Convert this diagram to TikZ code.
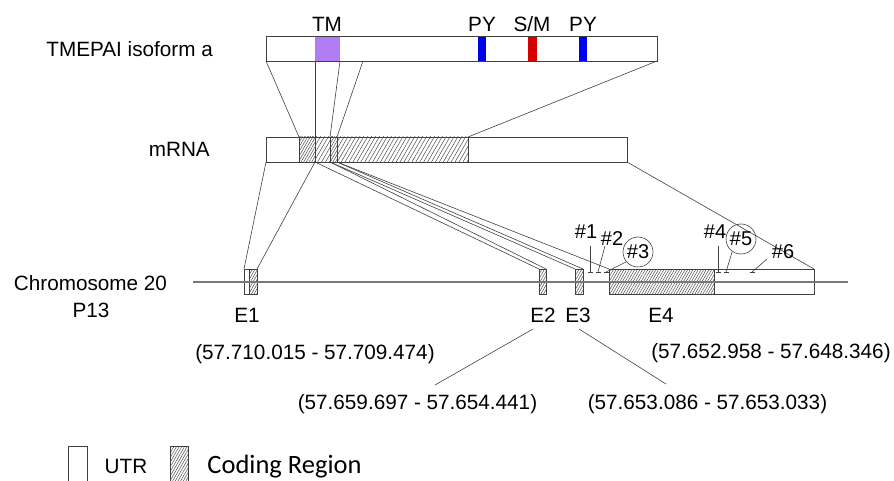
\documentclass[tikz,border=0pt]{standalone}
\usepackage{fontspec}
\setmainfont{Liberation Sans}
\newfontfamily\calibrifont{Carlito}
\usetikzlibrary{patterns.meta}
\definecolor{tmcol}{RGB}{176,125,245}
\definecolor{pycol}{RGB}{0,0,240}
\definecolor{smcol}{RGB}{215,0,0}
\definecolor{linecol}{RGB}{64,64,64}
\definecolor{chromcol}{RGB}{120,120,120}
\begin{document}
\begin{tikzpicture}[x=1pt,y=-1pt,
  box/.style={draw=linecol,line width=0.8pt},
  conn/.style={draw=linecol,line width=0.6pt},
  hatchlight/.style={pattern={Lines[angle=60,distance=3.4pt,line width=0.5pt]},pattern color=black!70},
  hatchdense/.style={pattern={Lines[angle=60,distance=2.3pt,line width=0.5pt]},pattern color=black!70},
  lbl/.style={font=\fontsize{20.7}{24}\selectfont,inner sep=0pt},
  mk/.style={font=\fontsize{20}{22}\selectfont,inner sep=0pt},
  circmk/.style={draw=linecol,line width=0.6pt,circle,minimum size=30pt,inner sep=0pt,font=\fontsize{20}{22}\selectfont},
]
\useasboundingbox (0,0) rectangle (894,481);

% ---------------- protein ----------------
\fill[tmcol] (315,36) rectangle (340,61);
\fill[pycol] (478,36) rectangle (486,61);
\fill[smcol] (528,36) rectangle (537,61);
\fill[pycol] (579,36) rectangle (587,61);
\draw[box] (266,36) rectangle (657,61);
\node[lbl,anchor=base east] (prot) at (213,57) {TMEPAI isoform a};
\node[lbl,anchor=base] (tm) at (327,32) {TM};
\node[lbl,anchor=base] (py1) at (482,32) {PY};
\node[lbl,anchor=base] (sm) at (532,32) {S/M};
\node[lbl,anchor=base] (py2) at (583,32) {PY};

\coordinate (pL) at (266,61);
\coordinate (pA) at (315,61);
\coordinate (pB) at (340,61);
\coordinate (pC) at (363,61);
\coordinate (pR) at (657,61);

% ---------------- mRNA ----------------
\fill[hatchlight] (299,137) rectangle (468,162);
\fill[white] (299,137) rectangle (315,162);
\fill[hatchdense] (299,137) rectangle (315,162);
\fill[white] (330,137) rectangle (337,162);
\fill[hatchdense] (330,137) rectangle (337,162);
\draw[box] (266,137) rectangle (627,162);
\draw[box] (299,137) -- (299,162) (315,137) -- (315,162) (330,137) -- (330,162) (337,137) -- (337,162) (468,137) -- (468,162);
\node[lbl,anchor=base east] (mrna) at (210,157) {mRNA};

\coordinate (mA) at (299,137);
\coordinate (mB) at (315,137);
\coordinate (mC) at (330,137);
\coordinate (mD) at (337,137);
\coordinate (mE) at (468,137);
\coordinate (b0) at (266,162);
\coordinate (b1) at (315,162);
\coordinate (b2) at (330,162);
\coordinate (b3) at (337,162);
\coordinate (b4) at (627,162);

\draw[conn] (pL) -- (mA);
\draw[conn] (pA) -- (mB);
\draw[conn] (pB) -- (mC);
\draw[conn] (pC) -- (mD);
\draw[conn] (pR) -- (mE);

% ---------------- exons ----------------
\draw[box] (244,269) rectangle (257,294);
\fill[hatchdense] (249,269) rectangle (257,294);
\draw[box] (249,269) rectangle (257,294);
\fill[hatchdense] (539,269) rectangle (546,294);
\draw[box] (539,269) rectangle (546,294);
\fill[hatchdense] (575,269) rectangle (583,294);
\draw[box] (575,269) rectangle (583,294);
\fill[hatchdense] (609,269) rectangle (714,294);
\draw[box] (609,269) rectangle (814,294);
\draw[box] (714,269) -- (714,294);

\coordinate (e1L) at (244,269);
\coordinate (e1R) at (257,269);
\coordinate (e2L) at (539,269);
\coordinate (e2R) at (546,269);
\coordinate (e3L) at (575,269);
\coordinate (e3R) at (583,269);
\coordinate (e4L) at (609,269);
\coordinate (e4R) at (814,269);

\draw[conn] (b0) -- (e1L);
\draw[conn] (b1) -- (e1R);
\draw[conn] (b1) -- (e2L);
\draw[conn] (b2) -- (e2R);
\draw[conn] (b2) -- (e3L);
\draw[conn] (b3) -- (e3R);
\draw[conn] (b3) -- (e4L);
\draw[conn] (b4) -- (e4R);

% chromosome line
\coordinate (chL) at (193,282);
\coordinate (chR) at (848,282);
\draw[draw=chromcol,line width=1.1pt] (chL) -- (chR);
\node[lbl,anchor=base] (chrom) at (90.5,290) {Chromosome 20};
\node[lbl,anchor=base] (p13) at (91,317) {P13};

% exon labels
\node[lbl,anchor=base] (E1) at (247,322) {E1};
\node[lbl,anchor=base] (E2) at (543,322) {E2};
\node[lbl,anchor=base] (E3) at (578,322) {E3};
\node[lbl,anchor=base] (E4) at (661,322) {E4};

% coordinates
\node[lbl,anchor=base] (c1) at (315,359) {(57.710.015 - 57.709.474)};
\node[lbl,anchor=base] (c2) at (417.5,409) {(57.659.697 - 57.654.441)};
\node[lbl,anchor=base] (c3) at (707.5,409) {(57.653.086 - 57.653.033)};
\node[lbl,anchor=base] (c4) at (771,358) {(57.652.958 - 57.648.346)};

\coordinate (l2a) at (533,329);
\coordinate (l2b) at (435,385);
\coordinate (l3a) at (579,329);
\coordinate (l3b) at (666,384);
\draw[conn] (l2a) -- (l2b);
\draw[conn] (l3a) -- (l3b);

% ---------------- markers ----------------
\node[mk] (k1) at (586,232) {\#1};
\node[mk] (k2) at (612,239) {\#2};
\node[circmk] (k3) at (638,252) {\#3};
\node[mk] (k4) at (715,232) {\#4};
\node[circmk] (k5) at (741,239) {\#5};
\node[mk] (k6) at (783,252) {\#6};

\coordinate (t1) at (590,272);
\coordinate (t2) at (598,272);
\coordinate (t3) at (606,272);
\coordinate (t4) at (718,272);
\coordinate (t5) at (726,272);
\coordinate (t6) at (752,272);

\draw[conn] (590,246) -- (t1);
\draw[conn] (605,246) -- (t2);
\draw[conn] (k3.220) -- (t3);
\draw[conn] (718,246) -- (t4);
\draw[conn] (k5.235) -- (t5);
\draw[conn] (767,259) -- (t6);

\draw[conn] ([xshift=-2.5pt]t1) -- ([xshift=2.5pt]t1);
\draw[conn] ([xshift=-2.5pt]t2) -- ([xshift=2.5pt]t2);
\draw[conn] ([xshift=-2.5pt]t3) -- ([xshift=2.5pt]t3);
\draw[conn] ([xshift=-2.5pt]t4) -- ([xshift=2.5pt]t4);
\draw[conn] ([xshift=-2.5pt]t5) -- ([xshift=2.5pt]t5);
\draw[conn] ([xshift=-2.5pt]t6) -- ([xshift=2.5pt]t6);

% ---------------- legend ----------------
\draw[box] (68,446) rectangle (87,485);
\fill[hatchdense] (170,446) rectangle (188,485);
\draw[box] (170,446) rectangle (188,485);
\node[lbl,anchor=base] (utr) at (126,473) {UTR};
\node[inner sep=0pt,anchor=base,font=\calibrifont\fontsize{26.5}{30}\selectfont] (coding) at (284.5,473) {Coding Region};
\end{tikzpicture}
\end{document}
